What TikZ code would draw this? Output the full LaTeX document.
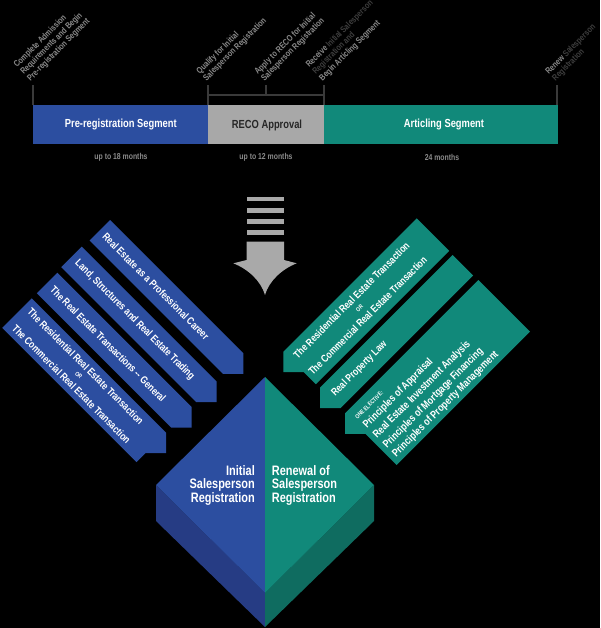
\documentclass[tikz,border=0pt]{standalone}
\usepackage{fontspec}
\setmainfont{Liberation Sans}
\newfontfamily\cond[FakeStretch=0.8]{Liberation Sans}
\usetikzlibrary{calc}
\definecolor{bblue}{HTML}{2C4EA0}
\definecolor{bteal}{HTML}{11897A}
\definecolor{bgray}{HTML}{A8A8A8}
\definecolor{dblue}{HTML}{263C84}
\definecolor{dteal}{HTML}{0F6C60}
\definecolor{lbl}{HTML}{8A8A8A}
\definecolor{lbldark}{HTML}{3E3E3E}
\definecolor{tickc}{HTML}{3A3A3A}
\definecolor{arrowc}{HTML}{A9A9A9}
\begin{document}
\begin{tikzpicture}[x=1pt,y=-1pt,
  toplabel/.style={rotate=45,anchor=south west,inner sep=0,align=left,text=lbl,font=\cond\bfseries\fontsize{8.8}{9.5}\selectfont},
  bartext/.style={inner sep=0,font=\cond\bfseries\fontsize{11.7}{13}\selectfont},
  timetext/.style={inner sep=0,text=lbl,font=\cond\bfseries\fontsize{8.6}{10}\selectfont},
  bluetext/.style={rotate=-45,anchor=west,inner sep=0,text=white,font=\cond\bfseries\fontsize{10.5}{12}\selectfont},
  tealtext/.style={rotate=45,anchor=west,inner sep=0,text=white,font=\cond\bfseries\fontsize{10.5}{12}\selectfont},
  bigteal/.style={rotate=45,anchor=west,inner sep=0,text=white,font=\cond\bfseries\fontsize{10.8}{12}\selectfont},
  ortext/.style={inner sep=0,text=white,font=\cond\bfseries\fontsize{6}{7}\selectfont},
  diamtext/.style={inner sep=0,text=white,font=\cond\bfseries\fontsize{13.7}{13.5}\selectfont},
  tickline/.style={draw=tickc,line width=1.2pt}]
\useasboundingbox (0,0) rectangle (600,628);
\fill[black] (0,0) rectangle (600,628);

% ---- timeline ticks
\draw[tickline] (33,85) -- (33,105);
\draw[tickline] (208,85) -- (208,105);
\draw[tickline] (324,85) -- (324,105);
\draw[tickline] (557,85) -- (557,105);
\draw[tickline] (208,95) -- (324,95);
\draw[tickline] (266,85) -- (266,95);

% ---- top labels
\node[toplabel] (l1) at (32,83) {Complete Admission\\Requirements and Begin\\Pre-registration Segment};
\node[toplabel] (l2) at (208,83) {Qualify for Initial\\Salesperson Registration};
\node[toplabel] (l3) at (266,83) {Apply to RECO for Initial\\Salesperson Registration};
\node[toplabel] (l4) at (324,83) {Receive \textcolor{lbldark}{Initial Salesperson}\\\textcolor{lbldark}{Registration and}\\Begin Articling Segment};
\node[toplabel] (l5) at (557,83) {Renew \textcolor{lbldark}{Salesperson}\\\textcolor{lbldark}{Registration}};

% ---- bar
\fill[bblue] (33,105) rectangle (208,144);
\fill[bgray] (208,105) rectangle (324,144);
\fill[bteal] (324,105) rectangle (558,144);
\node[bartext,text=white] (pre) at (120.8,125) {Pre-registration Segment};
\node[bartext,text=black!85] (reco) at (267,125) {RECO Approval};
\node[bartext,text=white] (art) at (444,125) {Articling Segment};
\node[timetext] (t1) at (121,157.5) {up to 18 months};
\node[timetext] (t2) at (266,157.5) {up to 12 months};
\node[timetext] (t3) at (442,157.5) {24 months};

% ---- grey arrow
\fill[arrowc] (246.7,196.7) rectangle (284,200.7);
\fill[arrowc] (246.7,208) rectangle (284,212.7);
\fill[arrowc] (246.7,219) rectangle (284,223.7);
\fill[arrowc] (246.7,230) rectangle (284,235);
\fill[arrowc] (246.7,241.7) -- (284,241.7) -- (284,260) -- (296.7,263.3)
  .. controls (282,269) and (269,281) .. (265,295)
  .. controls (261,281) and (248,269) .. (233.3,263.3) -- (246.7,260) -- cycle;

% ---- blue banners
\fill[bblue] (110,220) -- (243.3,353.3) -- (243.3,373.8) -- (222.8,373.8) -- (89.5,240.5) -- cycle;
\fill[bblue] (81.7,246.7) -- (216.7,381.7) -- (216.7,402.2) -- (196.2,402.2) -- (61.2,267.2) -- cycle;
\fill[bblue] (57.3,272.7) -- (191.7,407.1) -- (191.7,427.6) -- (171.2,427.6) -- (36.8,293.2) -- cycle;
\fill[bblue] (31.7,298.3) -- (166,432.6) -- (166,453.1) -- (145.5,453.1) -- (136.45,462.15) -- (2.15,327.85) -- cycle;
\node[bluetext] (b1) at (104.3,234.8) {Real Estate as a Professional Career};
\node[bluetext] (b2) at (76.45,261.95) {Land, Structures and Real Estate Trading};
\node[bluetext] (b3) at (52.05,287.95) {The Real Estate Transactions -- General};
\node[bluetext] (b4a) at (29.3,310) {The Residential Real Estate Transaction};
\node[bluetext] (b4c) at (14,326.7) {The Commercial Real Estate Transaction};
\node[ortext,rotate=-45] (b4or) at ($(b4a.center)!0.5!(b4c.center)$) {OR};

% ---- teal banners
\fill[bteal] (416.7,218.3) -- (283.3,351.7) -- (283.3,372.2) -- (303.8,372.2) -- (315.8,384.2) -- (449.2,250.8) -- cycle;
\fill[bteal] (452.7,255) -- (320,387.7) -- (320,408.2) -- (340.5,408.2) -- (473.2,275.5) -- cycle;
\fill[bteal] (478.3,280) -- (345,413.3) -- (345,433.8) -- (365.5,433.8) -- (396.7,465) -- (530,331.7) -- cycle;
\node[tealtext] (t1a) at (295,356.7) {The Residential Real Estate Transaction};
\node[tealtext] (t1c) at (310,373.3) {The Commercial Real Estate Transaction};
\node[ortext,rotate=45] (t1or) at ($(t1a.center)!0.5!(t1c.center)$) {OR};
\node[tealtext] (t2a) at (333.3,395) {Real Property Law};
\node[tealtext,font=\cond\bfseries\fontsize{6}{7}\selectfont] (t3e) at (356,418.3) {ONE ELECTIVE:};
\node[bigteal] (t3a) at (365,426.7) {Principles of Appraisal};
\node[bigteal] (t3b) at (375,436.7) {Real Estate Investment Analysis};
\node[bigteal] (t3c) at (385,446.7) {Principles of Mortgage Financing};
\node[bigteal] (t3d) at (394.2,455.8) {Principles of Property Management};

% ---- diamond
\fill[dblue] (156,485) -- (265,593) -- (265,627) -- (156,521) -- cycle;
\fill[dteal] (374,485) -- (265,593) -- (265,627) -- (374,521) -- cycle;
\fill[bblue] (265,377) -- (156,485) -- (265,593) -- cycle;
\fill[bteal] (265,377) -- (374,485) -- (265,593) -- cycle;
\node[diamtext,anchor=east,align=right] (init) at (255,485) {Initial\\Salesperson\\Registration};
\node[diamtext,anchor=west,align=left] (renew) at (271.7,485) {Renewal of\\Salesperson\\Registration};
\end{tikzpicture}
\end{document}
